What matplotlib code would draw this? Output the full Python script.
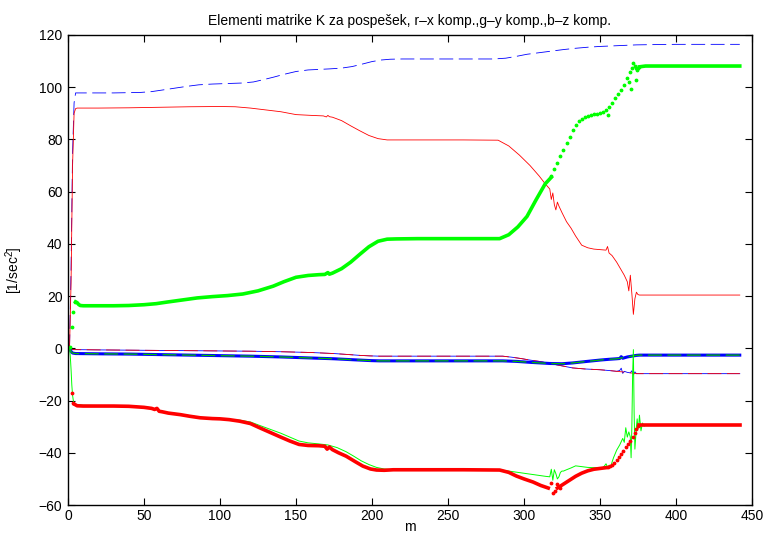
import matplotlib

matplotlib.use("Agg")
from matplotlib import pyplot as plt

plt.rcParams["font.family"] = ["Liberation Sans", "DejaVu Sans"]
plt.rcParams["mathtext.default"] = "regular"
plt.rcParams["lines.scale_dashes"] = False

RED = "#ff0000"
GREEN = "#00ff00"
BLUE = "#0000ff"
DASH = (0, (10, 4))

TITLE = "Elementi matrike K za pospešek, r–x komp.,g–y komp.,b–z komp."
X_TICKS = [0, 50, 100, 150, 200, 250, 300, 350, 400, 450]
Y_TICKS = [-60, -40, -20, 0, 20, 40, 60, 80, 100, 120]

# blue dashed, upper (z)
blue_dash_m = [1, 2, 3, 4, 5, 10, 20, 30, 40, 48, 55, 62, 70, 78, 86, 95, 105, 115, 122, 128,
               135, 142, 150, 158, 165, 172, 180, 187, 194, 200, 206, 212, 220, 240, 260, 280,
               288, 295, 302, 310, 318, 326, 334, 342, 350, 358, 366, 374, 385, 400, 420, 442]
blue_dash_v = [0, 30, 75, 94, 97.8, 97.8, 97.8, 97.8, 97.9, 98.0, 98.3, 98.9, 99.6, 100.3, 100.9,
               101.2, 101.4, 101.6, 102.0, 102.8, 103.8, 104.9, 106.0, 106.6, 106.8, 107.0, 107.3,
               107.9, 108.9, 109.8, 110.4, 110.7, 110.8, 110.8, 110.8, 110.8, 111.1, 111.8, 112.6,
               113.2, 113.8, 114.4, 114.9, 115.3, 115.6, 115.8, 116.0, 116.2, 116.3, 116.4, 116.4,
               116.4]

# red thin solid, upper (x)
red_thin_m = [1, 2, 3, 4, 5, 6, 10, 20, 40, 60, 80, 100, 110, 120, 130, 140, 150, 160, 168, 170,
              171, 172, 174, 180, 186, 192, 198, 204, 210, 216, 230, 260, 283, 290, 297, 304, 310,
              314, 317, 318, 319, 320, 321, 322, 323, 325, 328, 331, 334, 338, 342, 346, 350, 354,
              355, 356, 358, 361, 364, 366, 368, 369, 370, 371, 372, 373, 374, 375, 376, 380, 400,
              442]
red_thin_v = [0, 25, 70, 90, 91.8, 92, 92, 92, 92.1, 92.3, 92.5, 92.6, 92.5, 92, 91.3, 90.6, 89.5,
              89.2, 89, 88.6, 89.2, 88.7, 88.5, 87.2, 85.2, 83.3, 81.5, 80.3, 79.8, 79.8, 79.8,
              79.8, 79.7, 77.5, 74, 70, 66, 63, 61, 57, 59.5, 55, 53, 56, 54.5, 52, 48.5, 46, 43,
              39.5, 38.5, 38, 37.8, 37.6, 39, 36.5, 35.5, 33, 30, 28, 25.5, 22, 28, 21, 13, 19,
              21.5, 20.6, 20.4, 20.4, 20.4, 20.4]

# green dotted, upper (y): dense run, sparse dots, dense tail
green_dot_m = [5, 6, 7, 8, 10, 20, 30, 40, 50, 58, 65, 75, 85, 95, 105, 115, 125, 135, 142, 150,
               158, 165, 169, 171, 172, 174, 180, 186, 192, 198, 204, 210, 216, 230, 260, 284,
               290, 296, 302, 308, 314, 318]
green_dot_v = [17.8, 17.5, 16.8, 16.4, 16.3, 16.3, 16.3, 16.4, 16.7, 17.1, 17.7, 18.5, 19.3, 19.8,
               20.2, 20.8, 22.0, 23.8, 25.5, 27.2, 27.9, 28.2, 28.3, 29.0, 28.4, 28.8, 30.5, 33.0,
               36.0, 38.9, 41.0, 41.8, 41.9, 42.0, 42.0, 42.0, 43.5, 46.5, 50.5, 56.9, 63.0, 65.5]
green_pts_m = [1.5, 2.5, 3.2, 4.5, 318, 320, 322, 324, 326, 328, 330, 332, 334, 336, 338, 340, 342,
               344, 346, 348, 350, 352, 354, 355.5, 356, 358, 360, 362, 364, 366, 368, 369, 370,
               370.5, 371, 372, 373, 373.7, 374, 374.2, 375, 376]
green_pts_v = [0.5, 8.3, 13.8, 17.6, 66, 68.5, 71, 73.5, 76, 78.5, 81, 83.5, 85.5, 87, 88, 88.6,
               89, 89.3, 89.6, 89.9, 90.2, 90.6, 91.2, 89.4, 92.3, 94, 95.8, 97.3, 99, 100.7,
               103.4, 101.8, 106, 99.2, 107.5, 109.2, 108, 102.8, 107.2, 106.5, 107.5, 107.8]
green_tail_m = [376, 380, 400, 420, 442]
green_tail_v = [107.8, 108.1, 108.1, 108.1, 108.1]

# red dotted, lower (x)
red_dot_m = [4.5, 6, 10, 20, 30, 40, 50, 55, 57, 58.5, 60, 62, 66, 74, 80, 87, 95, 100, 106, 113,
             120, 126, 133, 140, 146, 152, 158, 165, 169, 170.5, 172, 174, 178, 183, 189, 194,
             199, 203, 208, 214, 230, 260, 284, 290, 295, 300, 306, 311, 316]
red_dot_v = [-21.5, -22, -22.1, -22.1, -22.1, -22.2, -22.6, -23, -23.4, -23.0, -24.1, -24.3,
             -24.8, -25.4, -26.0, -26.6, -26.9, -27.0, -27.3, -27.9, -28.8, -30.4, -32.2, -34.0,
             -35.5, -36.8, -37.2, -37.3, -37.5, -38.6, -37.8, -38.8, -40.0, -41.3, -43.4, -45.1,
             -46.2, -46.6, -46.7, -46.5, -46.5, -46.5, -46.6, -47.5, -48.9, -50.0, -51.2, -52.5,
             -53.5]
red_mid_m = [322, 326, 330, 334, 338, 342, 346, 350, 354]
red_mid_v = [-53.5, -52, -50.5, -49, -47.8, -46.9, -46.3, -46, -45.7]
red_pts_m = [2.8, 3.6, 317.5, 319, 320.5, 322, 323.5, 355, 356.5, 358, 359.5, 361, 362.5, 364,
             365.5, 367, 368.5, 370, 371.5, 373, 374, 375]
red_pts_v = [-17, -21, -51.5, -55.5, -54.5, -51.8, -53.5, -45.6, -45.2, -44.6, -43.8, -42.8,
             -41.8, -40.5, -39.2, -37.8, -36.5, -35.5, -34, -32.5, -31, -29.8]
red_tail_m = [376, 380, 400, 420, 442]
red_tail_v = [-29.5, -29.5, -29.5, -29.5, -29.5]

# green thin solid, lower (y)
green_thin_m = [1, 1.5, 2, 2.5, 3, 3.5, 4, 5, 10, 20, 40, 55, 57, 58.5, 60, 66, 74, 87, 100, 113,
                120, 126, 133, 140, 146, 152, 158, 165, 171, 177, 183, 188, 193, 198, 203, 208,
                212, 230, 260, 284, 290, 296, 302, 308, 314, 317, 318, 319, 320, 321, 322, 323,
                324, 325, 326, 328, 331, 334, 338, 342, 346, 350, 352, 353, 354, 355, 356, 357,
                358, 359, 361, 363, 365, 366, 367, 368, 369, 370, 370.5, 371, 371.5, 372, 372.5,
                373, 374, 374.5, 375, 375.5, 376, 377, 378, 379, 380, 400, 442]
green_thin_v = [0, -3, -8, -14, -18, -20, -21, -21.5, -21.8, -21.9, -22.0, -22.7, -23.3, -23, -24,
                -24.6, -25.2, -26.4, -26.9, -27.5, -28.2, -29.5, -31, -32.5, -34, -35.5, -36.2,
                -36.6, -37, -38, -39.6, -41.3, -43.1, -44.5, -45.6, -46.2, -46.4, -46.5, -46.5,
                -46.5, -47, -47.5, -48, -48.5, -49, -49.2, -46.3, -50.5, -46.5, -48, -50, -49.2,
                -47.5, -47, -47, -46.5, -45.8, -45, -45.3, -45.6, -45.7, -45.7, -45.6, -45, -44.2,
                -45.5, -44.8, -45.7, -43.5, -41.8, -39, -37, -34.5, -36, -30.4, -34, -32, -34,
                -41.9, -30, -10, -0.5, -25, -38.6, -30, -27, -31, -29.8, -25.6, -31.6, -28.6,
                -29.8, -29.5, -29.5, -29.5]

# near zero, upper pair: blue thin solid (with wiggles) and red dashed
blue_thin_m = [0.5, 1, 2, 3, 5, 20, 40, 60, 80, 100, 120, 140, 160, 175, 185, 192, 199, 205, 210,
               230, 260, 286, 292, 298, 304, 310, 317, 324, 332, 340, 350, 356, 361, 363, 364,
               365, 366, 368, 370, 371, 372, 373, 374, 376, 400, 442]
blue_thin_v = [0.8, 0.3, -0.3, -0.5, -0.5, -0.6, -0.7, -0.8, -0.9, -1.0, -1.1, -1.3, -1.6, -2.0,
               -2.4, -2.7, -2.9, -3.0, -3.0, -3.0, -3.0, -3.0, -3.4, -3.9, -4.5, -5.0, -5.8, -6.6,
               -7.5, -7.9, -8.2, -8.5, -8.8, -8.5, -7.6, -9.6, -8.8, -9.2, -9.4, -8.6, -10.2,
               -9.0, -9.7, -9.7, -9.7, -9.7]
red_dash_m = [0.5, 1, 2, 3, 5, 20, 40, 60, 80, 100, 120, 140, 160, 175, 185, 192, 199, 205, 210,
              230, 260, 286, 292, 298, 304, 310, 317, 324, 332, 340, 350, 356, 361, 366, 370,
              374, 376, 400, 442]
red_dash_v = [0.8, 0.3, -0.3, -0.5, -0.5, -0.6, -0.7, -0.8, -0.9, -1.0, -1.1, -1.3, -1.6, -2.0,
              -2.4, -2.7, -2.9, -3.0, -3.0, -3.0, -3.0, -3.0, -3.4, -3.9, -4.5, -5.0, -5.8, -6.6,
              -7.5, -7.9, -8.2, -8.5, -8.8, -9.1, -9.4, -9.7, -9.7, -9.7, -9.7]

# near zero, lower pair: blue dotted and green dashed
blue_dot_m = [0.5, 1, 2, 3, 5, 20, 40, 60, 80, 100, 120, 140, 160, 175, 185, 192, 199, 205, 230,
              260, 286, 295, 305, 317, 325, 332, 340, 350, 356, 361, 363, 364, 365, 368, 372,
              374, 376, 400, 442]
blue_dot_v = [0.5, 0, -1.2, -1.8, -2.0, -2.1, -2.2, -2.4, -2.6, -2.8, -3.0, -3.3, -3.7, -4.0,
              -4.3, -4.5, -4.7, -4.8, -4.8, -4.8, -4.8, -5.0, -5.4, -5.8, -5.9, -5.6, -5.1, -4.5,
              -4.2, -4.0, -3.9, -3.2, -3.8, -3.3, -2.9, -2.7, -2.6, -2.6, -2.6]
green_dash_m = [0.5, 1, 2, 3, 5, 20, 40, 60, 80, 100, 120, 140, 160, 175, 185, 192, 199, 205,
                230, 260, 286, 295, 305, 317, 325, 332, 340, 350, 356, 361, 368, 372, 374, 376,
                400, 442]
green_dash_v = [0.5, 0, -1.2, -1.8, -2.0, -2.1, -2.2, -2.4, -2.6, -2.8, -3.0, -3.3, -3.7, -4.0,
                -4.3, -4.5, -4.7, -4.8, -4.8, -4.8, -4.8, -5.0, -5.4, -5.8, -5.9, -5.6, -5.1,
                -4.5, -4.2, -4.0, -3.3, -2.9, -2.7, -2.6, -2.6, -2.6]


fig = plt.figure(figsize=(7.65, 5.36), dpi=100, facecolor="white")
ax = fig.add_axes([0.0889, 0.0578, 0.894, 0.877])

ax.plot(blue_thin_m, blue_thin_v, color=BLUE, lw=0.6)
ax.plot(red_dash_m, red_dash_v, color=RED, lw=0.6, linestyle=DASH)
ax.plot(blue_dot_m, blue_dot_v, color=BLUE, lw=2.2)
ax.plot(green_dash_m, green_dash_v, color="#00c000", lw=0.9, linestyle=DASH)

ax.plot(green_thin_m, green_thin_v, color=GREEN, lw=0.7)
ax.plot(red_dot_m, red_dot_v, color=RED, lw=2.6)
ax.plot(red_mid_m, red_mid_v, color=RED, lw=2.6)
ax.plot(red_tail_m, red_tail_v, color=RED, lw=2.6)
ax.plot(red_pts_m, red_pts_v, ".", color=RED, ms=3.5)

ax.plot(blue_dash_m, blue_dash_v, color=BLUE, lw=0.6, linestyle=DASH)
ax.plot(red_thin_m, red_thin_v, color=RED, lw=0.6)
ax.plot(green_dot_m, green_dot_v, color=GREEN, lw=2.6)
ax.plot(green_tail_m, green_tail_v, color=GREEN, lw=2.6)
ax.plot(green_pts_m, green_pts_v, ".", color=GREEN, ms=3.5)

ax.set_xlim(0, 450)
ax.set_ylim(-60, 120)
ax.set_xticks(X_TICKS)
ax.set_yticks(Y_TICKS)
ax.tick_params(direction="in", top=True, right=True, length=5, width=0.8,
               labelsize=10, pad=4, colors="black")
ax.tick_params(axis="x", pad=3)
for spine in ax.spines.values():
    spine.set_linewidth(1.0)
    spine.set_color("black")

ax.set_title(TITLE, fontsize=10, pad=7)
ax.set_xlabel("m", fontsize=10, labelpad=-2)
ax.set_ylabel("[1/sec$^2$]", fontsize=10, labelpad=10)

fig.savefig("out.png", dpi=100, facecolor="white")
